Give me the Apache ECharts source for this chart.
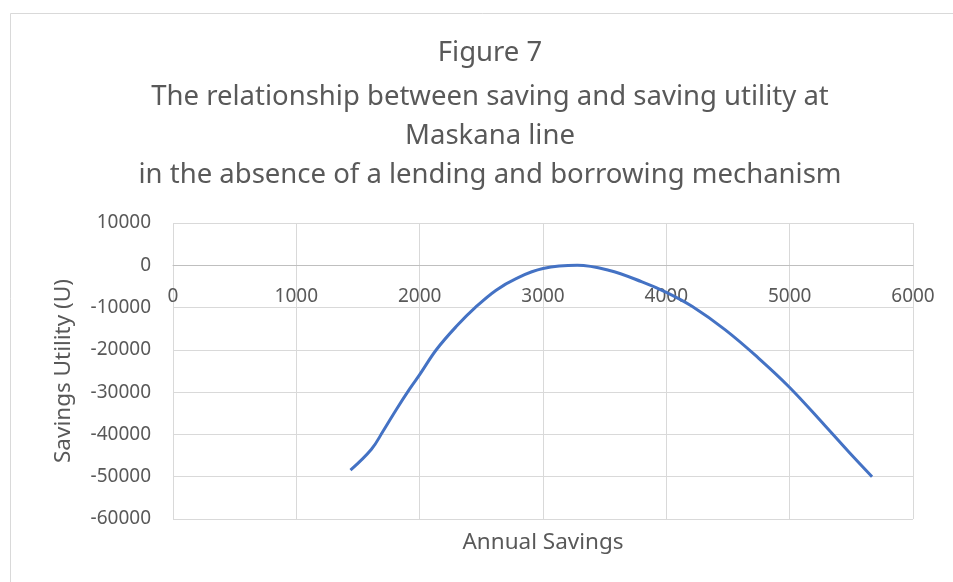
<!DOCTYPE html>
<html>
<head>
<meta charset="utf-8">
<script src="https://cdn.jsdelivr.net/npm/echarts@6/dist/echarts.min.js"></script>
<style>
html,body{margin:0;padding:0;background:#fff;}
#chart{width:953px;height:582px;}
</style>
</head>
<body>
<div id="chart"></div>
<script>
var titleLines = [
  'Figure 7',
  'The relationship between saving and saving utility at',
  'Maskana line',
  'in the absence of a lending and borrowing mechanism'
];
var xAxisTitle = 'Annual Savings';
var yAxisTitle = 'Savings Utility (U)';
var savings = [1439, 1609, 1704, 1811, 1919, 2000, 2135, 2296, 2458, 2620, 2782, 3000, 3278, 3532, 3803, 4000, 4208, 4478, 4749, 5000, 5289, 5478, 5668];
var utility = [-48430, -43500, -39190, -34090, -29230, -25860, -19980, -14500, -9800, -5880, -3130, -780, 0, -1180, -3920, -6400, -9700, -15280, -22000, -28900, -38010, -44100, -50000];

var points = savings.map(function (x, i) { return [x, utility[i]]; });
var textColor = '#595959';
var font = 'Noto Sans';
var titleTops = [34, 78, 117, 156];

var chart = echarts.init(document.getElementById('chart'), null, {renderer: 'canvas'});
chart.setOption({
  backgroundColor: '#fff',
  animation: false,
  title: titleLines.map(function (t, i) {
    return {
      text: t,
      left: 485,
      textAlign: 'center',
      top: titleTops[i],
      textStyle: {fontFamily: font, fontSize: 27.5, fontWeight: 'normal', color: textColor}
    };
  }),
  graphic: [{
    type: 'rect',
    shape: {x: 10.5, y: 13.5, width: 1000, height: 1000},
    style: {fill: 'none', stroke: '#d9d9d9', lineWidth: 1},
    silent: true
  }],
  grid: {left: 173, right: 40, top: 223, bottom: 63, containLabel: false, outerBoundsMode: 'none'},
  xAxis: {
    type: 'value',
    min: 0, max: 6000, interval: 1000,
    name: xAxisTitle,
    nameLocation: 'middle',
    nameGap: 266,
    nameTextStyle: {fontFamily: font, fontSize: 22.5, color: textColor, verticalAlign: 'top'},
    offset: -254,
    axisLine: {show: true, onZero: false, lineStyle: {color: '#bfbfbf', width: 1}},
    axisTick: {show: false},
    axisLabel: {fontFamily: font, fontSize: 19, color: textColor, margin: 22, formatter: function (v) { return String(v); }},
    splitLine: {show: true, lineStyle: {color: '#d9d9d9', width: 1}}
  },
  yAxis: {
    type: 'value',
    min: -60000, max: 10000, interval: 10000,
    name: yAxisTitle,
    nameLocation: 'middle',
    nameGap: 98,
    nameRotate: 90,
    nameTextStyle: {fontFamily: font, fontSize: 22.5, color: textColor},
    axisLine: {show: false},
    axisTick: {show: false},
    axisLabel: {fontFamily: font, fontSize: 19, color: textColor, margin: 22, formatter: function (v) { return String(v); }},
    splitLine: {show: true, lineStyle: {color: '#d9d9d9', width: 1}}
  },
  series: [{
    type: 'line',
    data: points,
    smooth: 0.4,
    showSymbol: false,
    lineStyle: {color: '#4472C4', width: 3},
    itemStyle: {color: '#4472C4'}
  }]
});
</script>
</body>
</html>
